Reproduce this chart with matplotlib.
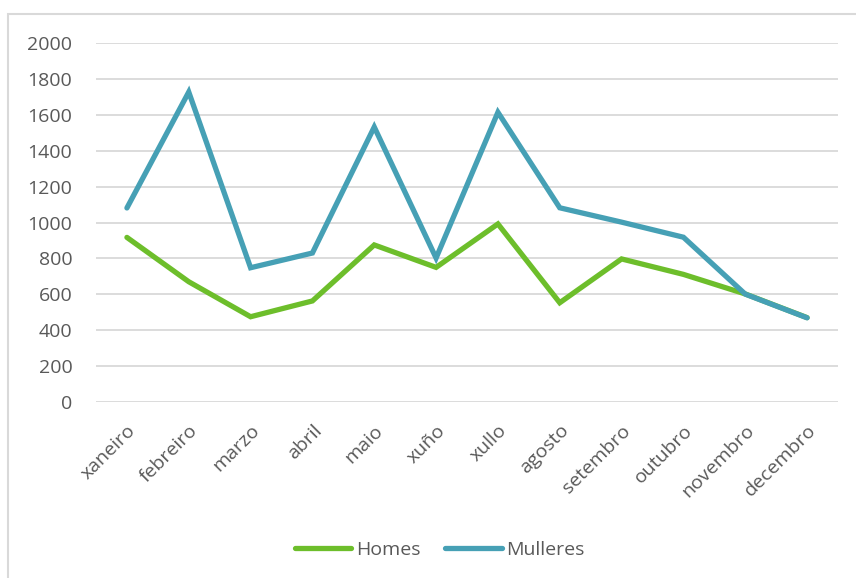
import matplotlib
matplotlib.use("Agg")
import matplotlib.pyplot as plt
from matplotlib.patches import Rectangle

months = ["xaneiro", "febreiro", "marzo", "abril", "maio", "xuño",
          "xullo", "agosto", "setembro", "outubro", "novembro", "decembro"]
homes = [917, 670, 475, 563, 875, 750, 992, 553, 797, 711, 602, 470]
mulleres = [1081, 1727, 748, 830, 1532, 802, 1614, 1082, 1002, 918, 601, 469]
yticks = [0, 200, 400, 600, 800, 1000, 1200, 1400, 1600, 1800, 2000]

W, H = 856, 578
fig = plt.figure(figsize=(W / 100, H / 100), dpi=100)
plt.rcParams['font.family'] = ['Open Sans', 'DejaVu Sans']

# chart border
fig.patches.append(Rectangle((8 / W, -0.1), 1.2, 1 - 14 / H + 0.1,
                             transform=fig.transFigure, fill=False,
                             edgecolor="#d9d9d9", linewidth=1.5))

left, right, top, bottom = 96, 838, 43, 402
ax = fig.add_axes([left / W, 1 - bottom / H, (right - left) / W, (bottom - top) / H])

x = list(range(len(months)))
green = "#6DBE2B"
blue = "#46A0B5"
ax.plot(x, homes, color=green, linewidth=3.8, solid_capstyle="round",
        solid_joinstyle="miter", label="Homes")
ax.plot(x, mulleres, color=blue, linewidth=3.8, solid_capstyle="round",
        solid_joinstyle="miter", label="Mulleres")

ax.set_xlim(-0.5, len(months) - 0.5)
ax.set_ylim(0, 2000)
ax.set_yticks(yticks)
ax.set_yticklabels([str(v) for v in yticks], fontsize=14, color="#595959")
ax.set_xticks(x)
ax.set_xticklabels(months, rotation=45, ha="right", rotation_mode="anchor",
                   fontsize=14, color="#595959")
ax.tick_params(axis="both", length=0)
ax.tick_params(axis="y", pad=17)
ax.tick_params(axis="x", pad=14)
for s in ax.spines.values():
    s.set_visible(False)
ax.grid(axis="y", color="#d9d9d9", linewidth=1.3)
ax.set_axisbelow(True)

leg = fig.legend(loc="center", bbox_to_anchor=(440 / W, 1 - 550 / H), ncol=2,
                 frameon=False, fontsize=14, handlelength=2.9,
                 columnspacing=1.24, handletextpad=0.26)
for t in leg.get_texts():
    t.set_color("#595959")

fig.savefig("out.png", dpi=100)
